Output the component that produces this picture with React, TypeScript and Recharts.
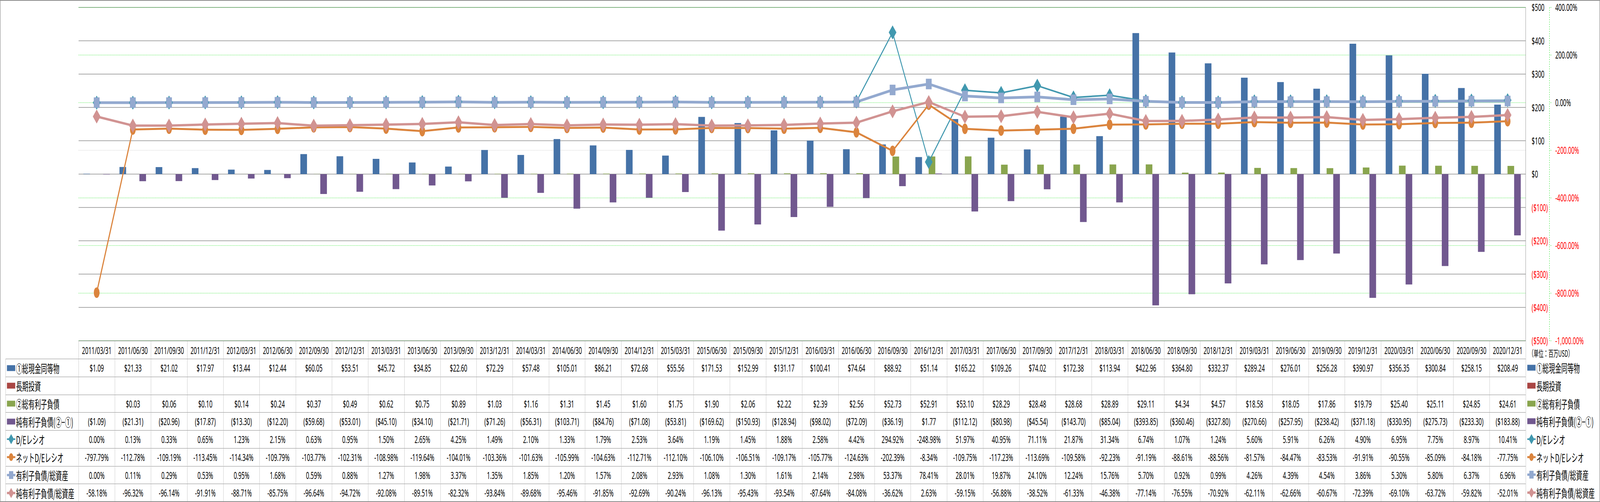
import React from "react";
import { ComposedChart, Bar, Line, XAxis, YAxis, CartesianGrid } from "recharts";

// quarter ends, 2011-2020
const dates = [
  "2011/03/31", "2011/06/30", "2011/09/30", "2011/12/31",
  "2012/03/31", "2012/06/30", "2012/09/30", "2012/12/31",
  "2013/03/31", "2013/06/30", "2013/09/30", "2013/12/31",
  "2014/03/31", "2014/06/30", "2014/09/30", "2014/12/31",
  "2015/03/31", "2015/06/30", "2015/09/30", "2015/12/31",
  "2016/03/31", "2016/06/30", "2016/09/30", "2016/12/31",
  "2017/03/31", "2017/06/30", "2017/09/30", "2017/12/31",
  "2018/03/31", "2018/06/30", "2018/09/30", "2018/12/31",
  "2019/03/31", "2019/06/30", "2019/09/30", "2019/12/31",
  "2020/03/31", "2020/06/30", "2020/09/30", "2020/12/31",
];

// 単位: 百万USD
const cash = [
  1.09, 21.33, 21.02, 17.97,
  13.44, 12.44, 60.05, 53.51,
  45.72, 34.85, 22.6, 72.29,
  57.48, 105.01, 86.21, 72.68,
  55.56, 171.53, 152.99, 131.17,
  100.41, 74.64, 88.92, 51.14,
  165.22, 109.26, 74.02, 172.38,
  113.94, 422.96, 364.8, 332.37,
  289.24, 276.01, 256.28, 390.97,
  356.35, 300.84, 258.15, 208.49,
];

const longTermInvestments: (number | null)[] = [
  null, null, null, null,
  null, null, null, null,
  null, null, null, null,
  null, null, null, null,
  null, null, null, null,
  null, null, null, null,
  null, null, null, null,
  null, null, null, null,
  null, null, null, null,
  null, null, null, null,
];

const totalDebt: (number | null)[] = [
  null, 0.03, 0.06, 0.1,
  0.14, 0.24, 0.37, 0.49,
  0.62, 0.75, 0.89, 1.03,
  1.16, 1.31, 1.45, 1.6,
  1.75, 1.9, 2.06, 2.22,
  2.39, 2.56, 52.73, 52.91,
  53.1, 28.29, 28.48, 28.68,
  28.89, 29.11, 4.34, 4.57,
  18.58, 18.05, 17.86, 19.79,
  25.4, 25.11, 24.85, 24.61,
];

const netDebt = [
  -1.09, -21.31, -20.96, -17.87,
  -13.3, -12.2, -59.68, -53.01,
  -45.1, -34.1, -21.71, -71.26,
  -56.31, -103.71, -84.76, -71.08,
  -53.81, -169.62, -150.93, -128.94,
  -98.02, -72.09, -36.19, 1.77,
  -112.12, -80.98, -45.54, -143.7,
  -85.04, -393.85, -360.46, -327.8,
  -270.66, -257.95, -238.42, -371.18,
  -330.95, -275.73, -233.3, -183.88,
];

// %
const deRatio = [
  0.0, 0.13, 0.33, 0.65,
  1.23, 2.15, 0.63, 0.95,
  1.5, 2.65, 4.25, 1.49,
  2.1, 1.33, 1.79, 2.53,
  3.64, 1.19, 1.45, 1.88,
  2.58, 4.42, 294.92, -248.98,
  51.97, 40.95, 71.11, 21.87,
  31.34, 6.74, 1.07, 1.24,
  5.6, 5.91, 6.26, 4.9,
  6.95, 7.75, 8.97, 10.41,
];

const netDeRatio = [
  -797.79, -112.78, -109.19, -113.45,
  -114.34, -109.79, -103.77, -102.31,
  -108.98, -119.64, -104.01, -103.36,
  -101.63, -105.99, -104.63, -112.71,
  -112.1, -106.1, -106.51, -109.17,
  -105.77, -124.63, -202.39, -8.34,
  -109.75, -117.23, -113.69, -109.58,
  -92.23, -91.19, -88.61, -88.56,
  -81.57, -84.47, -83.53, -91.91,
  -90.55, -85.09, -84.18, -77.75,
];

const debtToAssets = [
  0.0, 0.11, 0.29, 0.53,
  0.95, 1.68, 0.59, 0.88,
  1.27, 1.98, 3.37, 1.35,
  1.85, 1.2, 1.57, 2.08,
  2.93, 1.08, 1.3, 1.61,
  2.14, 2.98, 53.37, 78.41,
  28.01, 19.87, 24.1, 12.24,
  15.76, 5.7, 0.92, 0.99,
  4.26, 4.39, 4.54, 3.86,
  5.3, 5.8, 6.37, 6.96,
];

const netDebtToAssets = [
  -58.18, -96.32, -96.14, -91.91,
  -88.71, -85.75, -96.64, -94.72,
  -92.08, -89.51, -82.32, -93.84,
  -89.68, -95.46, -91.85, -92.69,
  -90.24, -96.13, -95.43, -93.54,
  -87.64, -84.08, -36.62, 2.63,
  -59.15, -56.88, -38.52, -61.33,
  -46.38, -77.14, -76.55, -70.92,
  -62.11, -62.66, -60.67, -72.39,
  -69.1, -63.72, -59.82, -52.01,
];

const usdTicks = [-500, -400, -300, -200, -100, 0, 100, 200, 300, 400, 500];
const pctTicks = [-1000, -800, -600, -400, -200, 0, 200, 400];
const PCT_DOMAIN = [-1000, 400];
const PCT_GRAY_LINE = -200;

const unitLabel = "（単位：百万USD）";

const C = {
  cash: "#4572A7",
  lti: "#AA4643",
  debt: "#89A54E",
  net: "#71588F",
  de: "#4198AF",
  nde: "#DB843D",
  dta: "#93A9CF",
  ndta: "#D19392",
  grid: "#8C8C8C",
  green: "#00E000",
  red: "#FF0000",
};

const W = 7472;
const H = 1286;
const PLOT_LEFT = 367;
const PLOT_RIGHT = 7125;
const USD_AXIS_W = 111;
const PLOT_TOP = 19;
const PLOT_BOTTOM = 873;
const CHART_H = 905;
const COL_W = (PLOT_RIGHT - PLOT_LEFT) / dates.length;
const TABLE_LEFT = 25.7;
const HEAD_TOP = 872.5;
const HEAD_H = 46.8;
const ROW_H = 45.7;

const NUM_FONT = "'Noto Sans', 'Liberation Sans', sans-serif";
const JP_FONT = "'Noto Sans CJK JP', 'Noto Sans', sans-serif";

const chartData = dates.map((d, i) => ({
  date: d,
  cash: cash[i],
  lti: longTermInvestments[i],
  debt: totalDebt[i],
  net: netDebt[i],
  de: deRatio[i],
  nde: netDeRatio[i],
  dta: debtToAssets[i],
  ndta: netDebtToAssets[i],
}));

const fmtUsd = (v: number | null) => {
  if (v == null) return "";
  return v < 0 ? `($${Math.abs(v).toFixed(2)})` : `$${v.toFixed(2)}`;
};
const fmtPct = (v: number | null) => (v == null ? "" : `${v.toFixed(2)}%`);
const fmtAxisUsd = (v: number) => (v < 0 ? `($${-v})` : `$${v}`);
const fmtAxisPct = (v: number) =>
  v.toLocaleString("en-US", { minimumFractionDigits: 2, maximumFractionDigits: 2 }) + "%";

const UsdTick = (p: any) => {
  const v = p.payload.value;
  return (
    <text x={p.x + 28} y={p.y} dy="0.36em" textAnchor="start" fontSize={26}
      fontFamily={NUM_FONT} fill={v < 0 ? C.red : "#000"}>
      {fmtAxisUsd(v)}
    </text>
  );
};

const PctTick = (p: any) => {
  const v = p.payload.value;
  return (
    <text x={p.x + 17} y={p.y} dy="0.36em" textAnchor="start" fontSize={26}
      fontFamily={NUM_FONT} fill={v < 0 ? C.red : "#000"}>
      {fmtAxisPct(v)}
    </text>
  );
};

// percent gridlines: green dashed, the -200% one gray dashed
const PctGridLine = (p: any) => {
  const { x1, x2, y1, y2, y, height, index } = p;
  let v: number | null = null;
  if (typeof y === "number" && typeof height === "number" && height > 0) {
    v = PCT_DOMAIN[1] - ((y1 - y) / height) * (PCT_DOMAIN[1] - PCT_DOMAIN[0]);
  }
  const gray = v != null ? Math.abs(v - PCT_GRAY_LINE) < 1 : index === pctTicks.indexOf(PCT_GRAY_LINE);
  return (
    <line key={`pg-${index}`} x1={x1} x2={x2} y1={y1} y2={y2}
      stroke={gray ? "#B8B8B8" : C.green} strokeWidth={1} strokeDasharray="4 3" fill="none" />
  );
};

type Shape = "diamond" | "circle" | "square";

const markerPath = (shape: Shape, cx: number, cy: number, s: number) => {
  const h = s / 2;
  if (shape === "diamond") return `M${cx},${cy - h}L${cx + h},${cy}L${cx},${cy + h}L${cx - h},${cy}Z`;
  if (shape === "square") return `M${cx - h},${cy - h}h${s}v${s}h${-s}Z`;
  return `M${cx - h},${cy}a${h},${h} 0 1,0 ${s},0a${h},${h} 0 1,0 ${-s},0Z`;
};

const makeDot = (id: string, shape: Shape, color: string, size: number) => (p: any) => {
  const { cx, cy, index } = p;
  if (cx == null || cy == null || p.value == null) return <g key={`${id}-${index}`} />;
  return <path key={`${id}-${index}`} d={markerPath(shape, cx, cy, size)} fill={color} />;
};

type Icon = { kind: "bar"; color: string } | { kind: "line"; color: string; shape: Shape; width: number };

const rows: { label: string; values: (number | null)[]; fmt: (v: number | null) => string; icon: Icon }[] = [
  { label: "①総現金同等物", values: cash, fmt: fmtUsd, icon: { kind: "bar", color: C.cash } },
  { label: "長期投資", values: longTermInvestments, fmt: fmtUsd, icon: { kind: "bar", color: C.lti } },
  { label: "②総有利子負債", values: totalDebt, fmt: fmtUsd, icon: { kind: "bar", color: C.debt } },
  { label: "純有利子負債(②−①)", values: netDebt, fmt: fmtUsd, icon: { kind: "bar", color: C.net } },
  { label: "D/Eレシオ", values: deRatio, fmt: fmtPct, icon: { kind: "line", color: C.de, shape: "diamond", width: 4 } },
  { label: "ネットD/Eレシオ", values: netDeRatio, fmt: fmtPct, icon: { kind: "line", color: C.nde, shape: "circle", width: 5 } },
  { label: "有利子負債/総資産", values: debtToAssets, fmt: fmtPct, icon: { kind: "line", color: C.dta, shape: "square", width: 6 } },
  { label: "純有利子負債/総資産", values: netDebtToAssets, fmt: fmtPct, icon: { kind: "line", color: C.ndta, shape: "diamond", width: 6 } },
];

const LegendIcon = ({ icon }: { icon: Icon }) => (
  <svg width={40} height={30} style={{ display: "block", flex: "none" }}>
    {icon.kind === "bar" ? (
      <rect x={0} y={7.5} width={39} height={15} fill={icon.color} />
    ) : (
      <g>
        <line x1={0} y1={15} x2={40} y2={15} stroke={icon.color} strokeWidth={icon.width} />
        <path d={markerPath(icon.shape, 20, 15, icon.shape === "diamond" ? 26 : 20)} fill={icon.color} />
      </g>
    )}
  </svg>
);

const HBORDER = "1.5px solid #8C8C8C";
const VBORDER = "1px solid #A6A6A6";

const DataTable = () => {
  const cells: React.ReactNode[] = [];
  // header row of dates
  dates.forEach((d, i) => {
    cells.push(
      <div key={`h${i}`} style={{
        position: "absolute", left: PLOT_LEFT + i * COL_W, top: HEAD_TOP, width: COL_W, height: HEAD_H,
        borderTop: HBORDER, borderLeft: VBORDER, boxSizing: "border-box",
        textAlign: "center", lineHeight: `${HEAD_H}px`, fontSize: 26, fontFamily: NUM_FONT,
      }}>{d}</div>
    );
  });
  rows.forEach((r, ri) => {
    const top = HEAD_TOP + HEAD_H + ri * ROW_H;
    cells.push(
      <div key={`l${ri}`} style={{
        position: "absolute", left: TABLE_LEFT, top, width: PLOT_LEFT - TABLE_LEFT, height: ROW_H,
        borderTop: HBORDER, borderLeft: VBORDER, boxSizing: "border-box",
        display: "flex", alignItems: "center", paddingLeft: 5, gap: 3,
        fontSize: 29, fontFamily: JP_FONT, whiteSpace: "nowrap",
      }}>
        <LegendIcon icon={r.icon} />
        <span>{r.label}</span>
      </div>
    );
    r.values.forEach((v, i) => {
      cells.push(
        <div key={`c${ri}-${i}`} style={{
          position: "absolute", left: PLOT_LEFT + i * COL_W, top, width: COL_W, height: ROW_H,
          borderTop: HBORDER, borderLeft: VBORDER, boxSizing: "border-box",
          textAlign: "center", lineHeight: `${ROW_H}px`, fontSize: 26, fontFamily: NUM_FONT,
        }}>{r.fmt(v)}</div>
      );
    });
    // right-hand legend
    cells.push(
      <div key={`r${ri}`} style={{
        position: "absolute", left: PLOT_RIGHT + 7, top, height: ROW_H,
        display: "flex", alignItems: "center", gap: 3,
        fontSize: 29, fontFamily: JP_FONT, whiteSpace: "nowrap",
      }}>
        <LegendIcon icon={r.icon} />
        <span>{r.label}</span>
      </div>
    );
  });
  const bottom = HEAD_TOP + HEAD_H + rows.length * ROW_H;
  cells.push(<div key="bl" style={{ position: "absolute", left: TABLE_LEFT, top: bottom - 1, width: PLOT_RIGHT - TABLE_LEFT, borderTop: HBORDER }} />);
  cells.push(<div key="rl" style={{ position: "absolute", left: PLOT_RIGHT - 0.5, top: HEAD_TOP, height: bottom - HEAD_TOP, borderLeft: VBORDER }} />);
  cells.push(
    <div key="unit" style={{
      position: "absolute", left: PLOT_RIGHT + 14, top: HEAD_TOP + 14, fontSize: 23,
      fontFamily: JP_FONT, whiteSpace: "nowrap",
    }}>{unitLabel}</div>
  );
  return <>{cells}</>;
};

export default function App() {
  // the page may be narrower than the chart: squeeze horizontally to fit
  const [sx, setSx] = React.useState(1);
  React.useLayoutEffect(() => {
    const fit = () => setSx(Math.min(1, window.innerWidth / W));
    fit();
    window.addEventListener("resize", fit);
    return () => window.removeEventListener("resize", fit);
  }, []);

  // keep the plot's right edge on the table's right edge
  const chartRef = React.useRef<HTMLDivElement>(null);
  const [rightAdj, setRightAdj] = React.useState(0);
  const tries = React.useRef(0);
  React.useEffect(() => {
    const el = chartRef.current;
    if (!el || tries.current > 6) return;
    const line = el.querySelector(".recharts-cartesian-grid-horizontal line");
    if (!line) {
      tries.current += 1;
      const t = setTimeout(() => setRightAdj((a) => a + 0), 30);
      return () => clearTimeout(t);
    }
    const x2 = parseFloat(line.getAttribute("x2") || "");
    if (!isNaN(x2)) {
      const delta = PLOT_RIGHT - x2;
      if (Math.abs(delta) > 0.5) {
        tries.current += 1;
        setRightAdj((a) => a - delta);
      }
    }
  });

  return (
    <div style={{ position: "absolute", left: 0, top: 0, width: W, height: H, background: "#fff", overflow: "hidden",
      transform: `scale(${sx}, 1)`, transformOrigin: "0 0" }}>
      <div ref={chartRef} style={{ position: "absolute", left: 0, top: 0 }}>
        <ComposedChart width={W} height={CHART_H} data={chartData} barGap={0}
          margin={{ top: PLOT_TOP, right: rightAdj, bottom: CHART_H - PLOT_BOTTOM, left: PLOT_LEFT }}>
          <XAxis dataKey="date" hide />
          <YAxis yAxisId="axisA" orientation="right" width={USD_AXIS_W} domain={[-500, 500]}
            ticks={usdTicks} allowDataOverflow tickSize={0} tickMargin={0} tickLine={false}
            axisLine={{ stroke: C.grid, strokeWidth: 1.5 }} tick={UsdTick} interval={0} />
          <YAxis yAxisId="axisB" orientation="right" width={W - PLOT_RIGHT - USD_AXIS_W} domain={PCT_DOMAIN}
            ticks={pctTicks} allowDataOverflow tickSize={10} tickMargin={0}
            tickLine={{ stroke: C.green, strokeDasharray: "3 2" }}
            axisLine={{ stroke: C.green, strokeDasharray: "3 3" }} tick={PctTick} interval={0} />
          <CartesianGrid yAxisId="axisA" vertical={false} stroke={C.grid} strokeWidth={1.5} />
          <CartesianGrid yAxisId="axisB" vertical={false} horizontal={PctGridLine} />

          <Bar yAxisId="axisA" dataKey="cash" fill={C.cash} barSize={31} isAnimationActive={false} />
          <Bar yAxisId="axisA" dataKey="lti" fill={C.lti} barSize={31} isAnimationActive={false} />
          <Bar yAxisId="axisA" dataKey="debt" fill={C.debt} barSize={31} isAnimationActive={false} />
          <Bar yAxisId="axisA" dataKey="net" fill={C.net} barSize={31} isAnimationActive={false} />

          <Line yAxisId="axisB" dataKey="de" stroke={C.de} strokeWidth={4} type="linear"
            dot={makeDot("de", "diamond", C.de, 36)} activeDot={false} isAnimationActive={false} />
          <Line yAxisId="axisB" dataKey="nde" stroke={C.nde} strokeWidth={5} type="linear"
            dot={makeDot("nde", "circle", C.nde, 27)} activeDot={false} isAnimationActive={false} />
          <Line yAxisId="axisB" dataKey="dta" stroke={C.dta} strokeWidth={7} type="linear"
            dot={makeDot("dta", "square", C.dta, 27)} activeDot={false} isAnimationActive={false} />
          <Line yAxisId="axisB" dataKey="ndta" stroke={C.ndta} strokeWidth={6} type="linear"
            dot={makeDot("ndta", "diamond", C.ndta, 36)} activeDot={false} isAnimationActive={false} />
        </ComposedChart>
      </div>
      <DataTable />
      <div style={{ position: "absolute", left: 0, top: 0, width: W, height: H, border: "2px solid #8C8C8C",
        boxSizing: "border-box", pointerEvents: "none" }} />
    </div>
  );
}
